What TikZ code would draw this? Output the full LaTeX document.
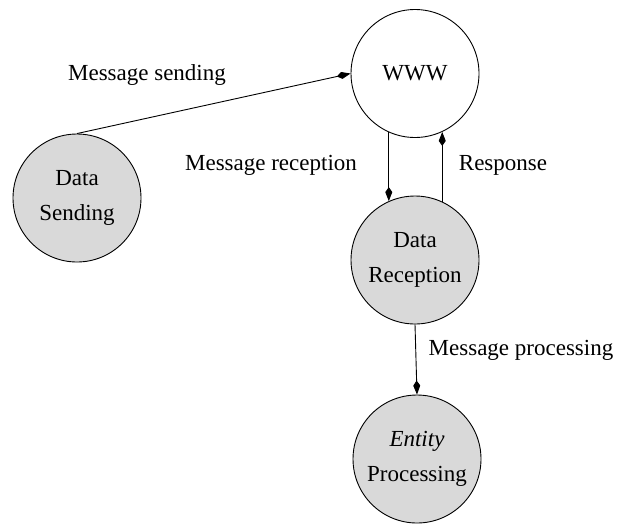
\documentclass[tikz,border=0pt]{standalone}
\usepackage{fontspec}
\setmainfont{Liberation Serif}
\usetikzlibrary{arrows.meta}
\definecolor{nodegray}{HTML}{D9D9D9}
\begin{document}
\begin{tikzpicture}[x=1pt,y=-1pt,
  state/.style={circle,draw=black,line width=0.9pt,minimum size=128pt,inner sep=0pt,align=center,
    font=\fontsize{23}{35}\selectfont},
  filled/.style={state,fill=nodegray},
  lbl/.style={font=\fontsize{23}{28}\selectfont,inner sep=0pt},
  conn/.style={line width=0.9pt,-{Kite[length=14pt,width=7pt,inset=5pt]}}]
\useasboundingbox[fill=white] (0,0) rectangle (623,523);
\node[state] (www) at (415,73.5) {WWW};
\node[filled] (ds) at (77,198) {Data\\Sending};
\node[filled] (dr) at (415,260) {Data\\Reception};
\node[filled] (ep) at (417,459) {\textit{Entity}\\Processing};
\draw[conn] (ds.north) -- (www.west);
\draw[conn] (www.-114) -- (dr.114);
\draw[conn] (dr.65) -- (www.-65);
\draw[conn] (dr.south) -- (ep.north);
\node[lbl] (l1) at (147,75) {Message sending};
\node[lbl] (l2) at (271,165) {Message reception};
\node[lbl] (l3) at (503,165) {Response};
\node[lbl] (l4) at (521,350) {Message processing};
\end{tikzpicture}
\end{document}
